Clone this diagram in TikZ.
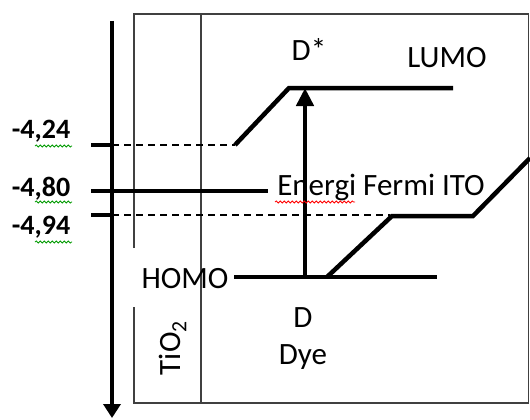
\documentclass[tikz,border=0pt]{standalone}
\usepackage{fontspec}
\setmainfont{Carlito}
\usetikzlibrary{arrows.meta,decorations.pathmorphing}
\begin{document}
\begin{tikzpicture}[x=1pt,y=-1pt,
  frame/.style={draw=black!75,line width=1.5pt},
  level/.style={line width=4.5pt},
  dashlevel/.style={line width=1.3pt,dash pattern=on 7pt off 5pt},
  lbl/.style={font=\fontsize{31}{36}\selectfont,inner sep=0pt,anchor=center},
  num/.style={font=\fontsize{28}{32}\selectfont\bfseries,inner sep=0pt,anchor=center},
  squig/.style={decorate,decoration={snake,amplitude=1pt,segment length=4pt},line width=0.8pt}
]
\useasboundingbox (0,0) rectangle (530,420);
% frame
\draw[frame] (134,248) -- (134,14) -- (528.5,14) -- (528.5,403) -- (134,403) -- (134,307);
\draw[frame] (201,14) -- (201,403);
% energy axis
\coordinate (axtop) at (112,21);
\coordinate (axbot) at (112,418);
\draw[line width=4.5pt,-{Triangle[width=17pt,length=14pt]}] (axtop) -- (axbot);
% ticks and levels
\coordinate (t1) at (91,145); \coordinate (a1) at (112,145); \coordinate (d1) at (235,145);
\coordinate (t2) at (91,191); \coordinate (f2) at (268,191);
\coordinate (t3) at (91,215); \coordinate (a3) at (112,215); \coordinate (d3) at (390,215);
\draw[level] (t1) -- (a1);
\draw[dashlevel] (a1) -- (d1);
\draw[level] (t2) -- (f2);
\draw[level] (t3) -- (a3);
\draw[dashlevel] (a3) -- (d3);
% LUMO
\coordinate (l1) at (289,88); \coordinate (l2) at (453,88);
\draw[level,line join=miter] (d1) -- (l1) -- (l2);
% HOMO
\coordinate (h1) at (234,277); \coordinate (h2) at (437,277);
\draw[level] (h1) -- (h2);
\coordinate (g1) at (327,277); \coordinate (g2) at (392,216); \coordinate (g3) at (473,216); \coordinate (g4) at (530,158);
\draw[level,line join=miter] (g1) -- (g2) -- (g3) -- (g4);
% excitation arrow
\coordinate (e1) at (305,277); \coordinate (e2) at (305,88);
\draw[line width=4.5pt,-{Triangle[width=17pt,length=18pt]}] (e1) -- (e2);
% labels
\node[num] (n424) at (41,131) {-4,24};
\node[num] (n480) at (41,189) {-4,80};
\node[num] (n494) at (41,227) {-4,94};
\node[lbl] (dstar) at (309,49) {D*};
\node[lbl] (lumo) at (447,58) {LUMO};
\node[lbl] (fermi) at (381,187) {Energi Fermi ITO};
\node[lbl] (homo) at (185,279) {HOMO};
\node[lbl] (dd) at (303,318) {D};
\node[lbl] (dye) at (303,357) {Dye};
\node[lbl,rotate=90] (tio) at (173,348) {TiO\textsubscript{2}};
% spell-check squiggles
\draw[squig,green!60!black] (35,146) -- (72,146);
\draw[squig,green!60!black] (35,202) -- (72,202);
\draw[squig,green!60!black] (35,242) -- (72,242);
\draw[squig,red] (275,202) -- (355,202);
\end{tikzpicture}
\end{document}
